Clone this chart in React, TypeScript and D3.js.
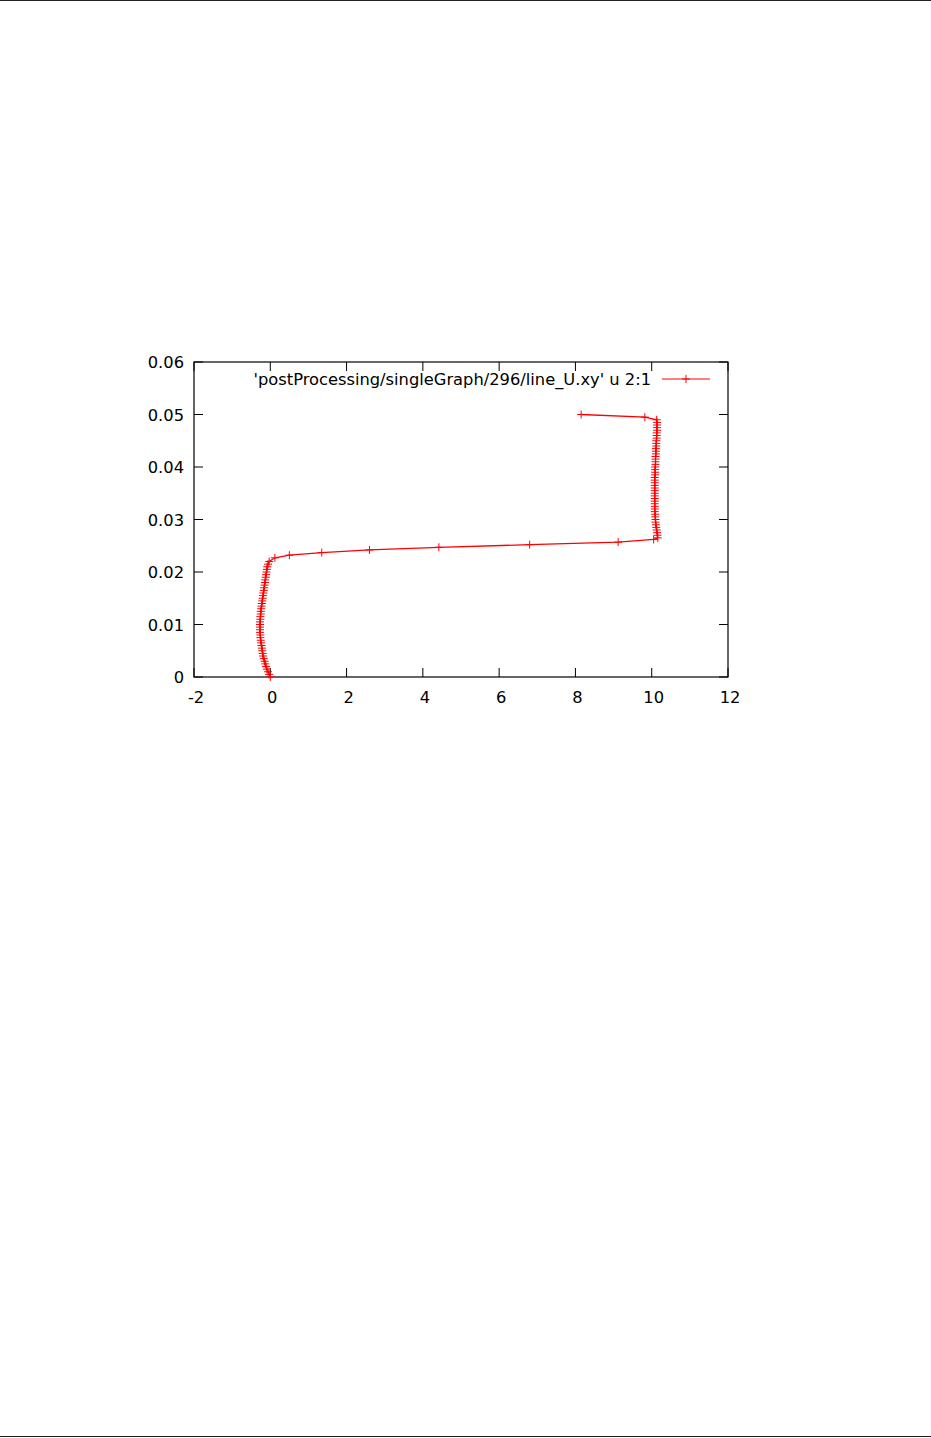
import React from "react";
import * as d3 from "d3";

// Velocity profile samples: y (position) and U (velocity)
const lowerY = [0, 0.0005, 0.001, 0.0015, 0.002, 0.0025, 0.003, 0.0035, 0.004, 0.0045, 0.005, 0.0055, 0.006, 0.0065, 0.007, 0.0075, 0.008, 0.0085, 0.009, 0.0095, 0.01, 0.0105, 0.011, 0.0115, 0.012, 0.0125, 0.013, 0.0135, 0.014, 0.0145, 0.015, 0.0155, 0.016, 0.0165, 0.017, 0.0175, 0.018, 0.0185, 0.019, 0.0195, 0.02, 0.0205, 0.021, 0.0215, 0.022];
const lowerU = [0.0, -0.03, -0.06, -0.09, -0.11, -0.13, -0.15, -0.17, -0.19, -0.2, -0.21, -0.22, -0.23, -0.24, -0.25, -0.26, -0.26, -0.27, -0.27, -0.27, -0.27, -0.27, -0.26, -0.26, -0.25, -0.25, -0.24, -0.23, -0.22, -0.21, -0.2, -0.19, -0.18, -0.17, -0.16, -0.15, -0.14, -0.13, -0.12, -0.11, -0.1, -0.09, -0.08, -0.06, -0.03];
const shearY = [0.0227, 0.0232, 0.0237, 0.0242, 0.0247, 0.0252, 0.0257, 0.0262];
const shearU = [0.12, 0.5, 1.35, 2.6, 4.42, 6.8, 9.12, 10.05];
const upperY = [0.0265, 0.027, 0.0275, 0.028, 0.0285, 0.029, 0.0295, 0.03, 0.0305, 0.031, 0.0315, 0.032, 0.0325, 0.033, 0.0335, 0.034, 0.0345, 0.035, 0.0355, 0.036, 0.0365, 0.037, 0.0375, 0.038, 0.0385, 0.039, 0.0395, 0.04, 0.0405, 0.041, 0.0415, 0.042, 0.0425, 0.043, 0.0435, 0.044, 0.0445, 0.045, 0.0455, 0.046, 0.0465, 0.047, 0.0475, 0.048, 0.0485, 0.049];
const upperU = [10.16, 10.15, 10.14, 10.13, 10.12, 10.11, 10.1, 10.1, 10.09, 10.09, 10.08, 10.08, 10.08, 10.08, 10.08, 10.08, 10.08, 10.08, 10.08, 10.08, 10.08, 10.08, 10.08, 10.08, 10.09, 10.09, 10.09, 10.09, 10.1, 10.1, 10.1, 10.1, 10.11, 10.11, 10.11, 10.12, 10.12, 10.12, 10.13, 10.13, 10.13, 10.14, 10.14, 10.14, 10.14, 10.13];
const topY = [0.0495, 0.05];
const topU = [9.82, 8.15];

const xTicks = [-2, 0, 2, 4, 6, 8, 10, 12];
const yTicks = [0, 0.01, 0.02, 0.03, 0.04, 0.05, 0.06];
const legendLabel = "'postProcessing/singleGraph/296/line_U.xy' u 2:1";

const W = 931;
const H = 1438;
const left = 194;
const right = 728;
const top = 362;
const bottom = 677;

export default function App() {
  const allY = [...lowerY, ...shearY, ...upperY, ...topY];
  const allU = [...lowerU, ...shearU, ...upperU, ...topU];
  const data = allY.map((y, i) => ({ u: allU[i], y }));

  const x = d3.scaleLinear().domain([-2, 12]).range([left, right]);
  const y = d3.scaleLinear().domain([0, 0.06]).range([bottom, top]);
  const line = d3
    .line<{ u: number; y: number }>()
    .x((d) => x(d.u))
    .y((d) => y(d.y));

  const font = "'DejaVu Sans', sans-serif";
  const fs = 16.3;
  const tickLen = 9;
  const ps = 4;
  const red = "#ff0000";

  const legendY = 379;
  const legendX0 = 662;
  const legendX1 = 710;

  return (
    <svg
      width={W}
      height={H}
      style={{ position: "absolute", left: 0, top: 0, display: "block", background: "#fff" }}
    >
      <line x1={0} x2={W} y1={0.5} y2={0.5} stroke="#222" strokeWidth={1} />
      <line x1={0} x2={W} y1={1436.5} y2={1436.5} stroke="#222" strokeWidth={1} />

      {/* ticks */}
      {yTicks.map((t) => (
        <g key={"y" + t}>
          <line x1={left} x2={left + tickLen} y1={y(t)} y2={y(t)} stroke="#000" />
          <line x1={right} x2={right - tickLen} y1={y(t)} y2={y(t)} stroke="#000" />
          <text
            x={left - 10}
            y={y(t) + 6}
            textAnchor="end"
            fontFamily={font}
            fontSize={fs}
            fill="#000"
          >
            {t === 0 ? "0" : d3.format(".2f")(t)}
          </text>
        </g>
      ))}
      {xTicks.map((t) => (
        <g key={"x" + t}>
          <line x1={x(t)} x2={x(t)} y1={bottom} y2={bottom - tickLen} stroke="#000" />
          <line x1={x(t)} x2={x(t)} y1={top} y2={top + tickLen} stroke="#000" />
          <text
            x={x(t) + 2}
            y={bottom + 26}
            textAnchor="middle"
            fontFamily={font}
            fontSize={fs}
            fill="#000"
          >
            {String(t)}
          </text>
        </g>
      ))}
      <rect
        x={left}
        y={top}
        width={right - left}
        height={bottom - top}
        fill="none"
        stroke="#000"
        strokeWidth={1.2}
      />

      {/* data */}
      <path d={line(data) || ""} fill="none" stroke={red} strokeWidth={1.3} />
      {data.map((d, i) => (
        <path
          key={i}
          d={`M${x(d.u) - ps},${y(d.y)}h${2 * ps}M${x(d.u)},${y(d.y) - ps}v${2 * ps}`}
          stroke={red}
          strokeWidth={1}
          fill="none"
        />
      ))}

      {/* legend */}
      <text
        x={651}
        y={legendY + 6}
        textAnchor="end"
        fontFamily={font}
        fontSize={fs}
        fill="#000"
      >
        {legendLabel}
      </text>
      <line x1={legendX0} x2={legendX1} y1={legendY} y2={legendY} stroke={red} strokeWidth={1.2} />
      <path
        d={`M${(legendX0 + legendX1) / 2 - ps},${legendY}h${2 * ps}M${(legendX0 + legendX1) / 2},${legendY - ps}v${2 * ps}`}
        stroke={red}
        strokeWidth={1}
      />
    </svg>
  );
}
